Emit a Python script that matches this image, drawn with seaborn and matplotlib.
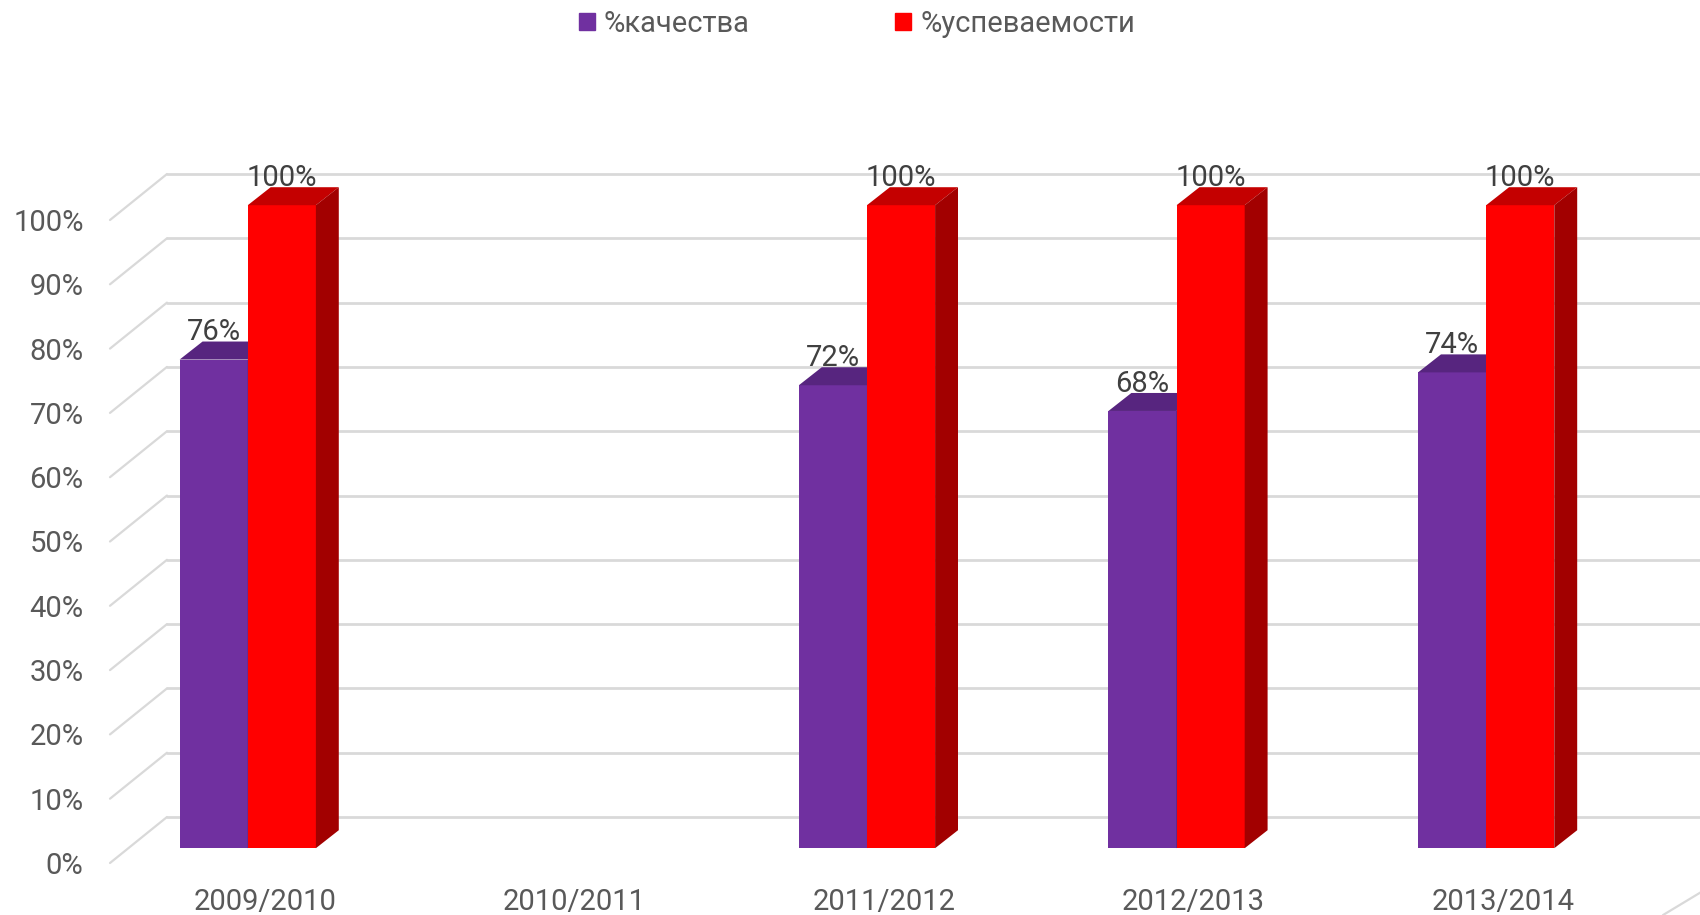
import matplotlib.pyplot as plt
import matplotlib.patches as mpatches
from matplotlib.patches import Polygon
import pandas as pd
import seaborn as sns

# Data (2010/2011 has no values)
years = ['2009/2010', '2010/2011', '2011/2012', '2012/2013', '2013/2014']
kachestvo = [76, None, 72, 68, 74]
uspevaemost = [100, None, 100, 100, 100]
series_names = ['%качества', '%успеваемости']
y_ticks = list(range(0, 101, 10))

colors = {'%качества': '#7030A0', '%успеваемости': '#FF0000'}
tops = {'%качества': '#57257F', '%успеваемости': '#C40000'}
sides = {'%качества': '#4B1F6E', '%успеваемости': '#A20000'}

df = pd.DataFrame({
    'year': years * 2,
    'series': [series_names[0]] * len(years) + [series_names[1]] * len(years),
    'value': kachestvo + uspevaemost,
}).dropna()

# fake 3D offsets (data units)
BAR_DX, BAR_DY = -0.055, 2.3      # bar front face vs. front plane
DEPTH_DX, DEPTH_DY = 0.074, 2.8   # bar depth
WALL_DX, WALL_DY = 0.184, 7.15    # back wall vs. front plane

sns.set_style('white')
plt.rcParams['font.family'] = ['Roboto', 'DejaVu Sans']
FS = 21

fig = plt.figure(figsize=(17, 9.15), dpi=100)
ax = fig.add_axes([110 / 1700, 52 / 915, 1548 / 1700, 643 / 915])

sns.barplot(data=df, x='year', y='value', hue='series', order=years,
            hue_order=series_names, palette=colors, width=0.44, saturation=1,
            linewidth=0, legend=False, ax=ax)
ax.set_xlim(-0.5, len(years) - 0.5)
ax.set_ylim(0, 100)

# walls: side diagonals + back gridlines
grid_c = '#D9D9D9'
for v in y_ticks:
    ax.plot([-0.5, -0.5 + WALL_DX], [v, v + WALL_DY], color=grid_c, lw=1.6,
            clip_on=False, zorder=0.5)
    ax.plot([-0.5 + WALL_DX, len(years) + 1], [v + WALL_DY] * 2, color=grid_c,
            lw=2, clip_on=False, zorder=0.5)
# floor edge peeking in at bottom right
ax.plot([4.516, 4.64], [-8.1, -4.5], color=grid_c, lw=1.6, clip_on=False)

# shift bars and add top/side faces
for k, (name, cont) in enumerate(zip(series_names, ax.containers)):
    z = 3 + k * 3
    for p in cont.patches:
        h = p.get_height()
        if not h == h:
            continue
        x0 = p.get_x() + BAR_DX
        w = p.get_width()
        y0 = BAR_DY
        p.set_x(x0)
        p.set_y(y0)
        p.set_zorder(z)
        top = [(x0, y0 + h), (x0 + w, y0 + h),
               (x0 + w + DEPTH_DX, y0 + h + DEPTH_DY), (x0 + DEPTH_DX, y0 + h + DEPTH_DY)]
        side = [(x0 + w, y0), (x0 + w + DEPTH_DX, y0 + DEPTH_DY),
                (x0 + w + DEPTH_DX, y0 + h + DEPTH_DY), (x0 + w, y0 + h)]
        ax.add_patch(Polygon(top, closed=True, facecolor=tops[name], lw=0,
                             zorder=z + 1, clip_on=False))
        ax.add_patch(Polygon(side, closed=True, facecolor=sides[name], lw=0,
                             zorder=z + 1, clip_on=False))
        p.set_clip_on(False)
        ax.text(x0 + w / 2, y0 + h + DEPTH_DY + 0.2, f'{h:.0f}%', ha='center',
                va='baseline', fontsize=FS, color='#404040', zorder=20)

ax.set_yticks(y_ticks, labels=[f'{v}%' for v in y_ticks])
ax.tick_params(axis='y', length=0, pad=19, labelsize=FS, labelcolor='#595959')
ax.tick_params(axis='x', length=0, pad=18, labelsize=FS, labelcolor='#595959')
ax.set_xlabel('')
ax.set_ylabel('')
sns.despine(ax=ax, left=True, bottom=True)
ax.patch.set_alpha(0)

handles = [mpatches.Patch(color=colors[n], label=n) for n in series_names]
fig.legend(handles=handles, loc='center', bbox_to_anchor=(0.504, 0.974), ncol=2,
           frameon=False, fontsize=FS, handlelength=0.55, handleheight=0.55,
           handletextpad=0.3, columnspacing=5.0, labelcolor='#595959')

fig.savefig('out.png', dpi=100)
